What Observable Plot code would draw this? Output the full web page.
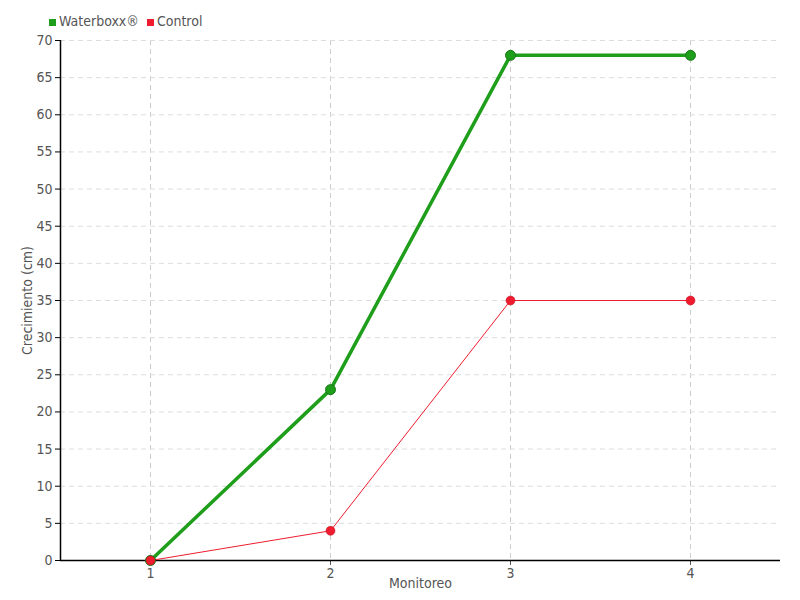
<!DOCTYPE html>
<html><head><meta charset="utf-8">
<script src="https://cdn.jsdelivr.net/npm/d3@7"></script>
<script src="https://cdn.jsdelivr.net/npm/@observablehq/plot@0.6"></script>
<style>
body{margin:0;background:#fff;}
#wrap{position:relative;width:800px;height:600px;font-family:"DejaVu Sans Condensed","Liberation Sans Narrow",sans-serif;}
#legend{position:absolute;left:49px;top:13px;font-size:14px;color:#555;display:flex;gap:8px;align-items:center;}
#legend span.sw{display:inline-block;width:7px;height:7px;margin-right:3px;vertical-align:middle;}
</style></head>
<body><div id="wrap"><div id="legend"></div></div>
<script>
const monitoreo = [1, 2, 3, 4];
const waterboxx = [0, 23, 68, 68];
const control = [0, 4, 35, 35];
const seriesNames = ["Waterboxx®", "Control"];
const seriesColors = ["#1e9e1a", "#ee1c2e"];
const yTicks = d3.range(0, 71, 5);

const dataW = monitoreo.map((m, i) => ({m, v: waterboxx[i]}));
const dataC = monitoreo.map((m, i) => ({m, v: control[i]}));

const chart = Plot.plot({
  width: 800, height: 600,
  marginTop: 40, marginBottom: 40, marginLeft: 60, marginRight: 20,
  style: {fontFamily: '"DejaVu Sans Condensed","Liberation Sans Narrow",sans-serif', fontSize: "14px", color: "#555", background: "white"},
  x: {domain: [0.5, 4.5], ticks: monitoreo, tickFormat: d => d, label: null},
  y: {domain: [0, 70], ticks: yTicks, label: null},
  marks: [
    Plot.gridX(monitoreo, {stroke: "#ccc", strokeOpacity: 1, strokeDasharray: "5,4"}),
    Plot.gridY(yTicks.filter(d => d > 0), {stroke: "#ddd", strokeOpacity: 1, strokeDasharray: "5,4"}),
    Plot.axisX({ticks: monitoreo, tickSize: 5, tickPadding: 3, tickFormat: d => d, fontSize: 14, label: null, stroke: "#555"}),
    Plot.axisY({ticks: yTicks, tickSize: 5, tickPadding: 3, fontSize: 14, label: null, stroke: "#000"}),
    Plot.ruleY([0], {stroke: "#000", strokeWidth: 1.5}),
    Plot.ruleX([0.5], {stroke: "#000", strokeWidth: 1.5}),
    Plot.line(dataC, {x: "m", y: "v", stroke: seriesColors[1], strokeWidth: 1}),
    Plot.line(dataW, {x: "m", y: "v", stroke: seriesColors[0], strokeWidth: 3.5}),
    Plot.dot(dataW, {x: "m", y: "v", r: 5, fill: seriesColors[0], stroke: "#1a7a16", strokeWidth: 1}),
    Plot.dot(dataC, {x: "m", y: "v", r: 4.5, fill: seriesColors[1], stroke: "#c01020", strokeWidth: 0.5}),
    Plot.text(["Monitoreo"], {frameAnchor: "bottom", dy: 27, fontSize: 14, fill: "#555"}),
    Plot.text(["Crecimiento (cm)"], {frameAnchor: "left", dx: -33, rotate: -90, textAnchor: "middle", fontSize: 14, fill: "#555"})
  ]
});
document.getElementById("wrap").appendChild(chart);
const leg = document.getElementById("legend");
seriesNames.forEach((n, i) => {
  const s = document.createElement("span");
  s.innerHTML = `<span class="sw" style="background:${seriesColors[i]}"></span>${n}`;
  leg.appendChild(s);
});
</script></body></html>
